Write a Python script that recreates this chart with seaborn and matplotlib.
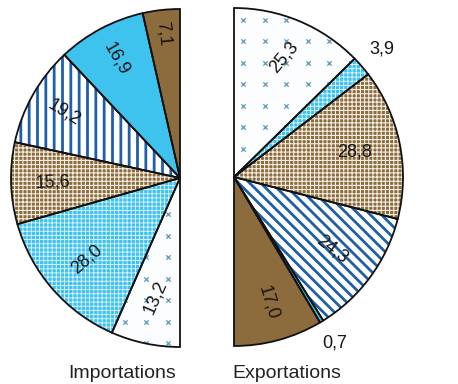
import numpy as np
import matplotlib
matplotlib.use("Agg")
import matplotlib.pyplot as plt
import seaborn as sns

# Importations, counter-clockwise from the top (half circle = 100 %)
imp_labels = ["7,1", "16,9", "19,2", "15,6", "28,0", "13,2"]
imp_values = [7.1, 16.9, 19.2, 15.6, 28.0, 13.2]
imp_kinds = ["brown", "cyan", "stripes", "brown_grid", "cyan_grid", "cross"]

# Exportations, clockwise from the top
exp_labels = ["25,3", "3,9", "28,8", "24,3", "0,7", "17,0"]
exp_values = [25.3, 3.9, 28.8, 24.3, 0.7, 17.0]
exp_kinds = ["cross", "cyan_grid", "brown_grid", "stripes", "cyan", "brown"]

titles = ["Importations", "Exportations"]

BROWN = "#8c6b3d"
CYAN = "#3ec3ee"
BLUE = "#1f5ea8"
CROSS = "#5a9ab8"
R = 169

sns.set_theme(style="white")
plt.rcParams['font.family'] = ['Liberation Sans', 'DejaVu Sans']

fig = plt.figure(figsize=(4.58, 3.84), dpi=100)
ax = fig.add_axes([0, 0, 1, 1])


def style_for(kind, stripe_hatch):
    if kind == "brown":
        return BROWN, None, BROWN, 1.0
    if kind == "cyan":
        return CYAN, None, CYAN, 1.0
    if kind == "stripes":
        return "white", stripe_hatch, BLUE, 2.0
    if kind == "brown_grid":
        return BROWN, "++++", "#f4eee4", 0.8
    if kind == "cyan_grid":
        return CYAN, "++++", "#e8f8fd", 0.6
    return "#fcfdff", None, CROSS, 1.0


def draw_half(values, labels, kinds, center, counterclock, stripe_hatch, dists, rots):
    vals = np.array(values) / 200.0
    wedges, _ = ax.pie(vals, normalize=False, startangle=90, counterclock=counterclock,
                       center=center, radius=R, wedgeprops=dict(linewidth=0))
    for w, k in zip(wedges, kinds):
        face, hatch, hc, hlw = style_for(k, stripe_hatch)
        w.set_facecolor(face)
        w.set_edgecolor(hc)
        w.set_linewidth(0)
        if hatch:
            w.set_hatch(hatch)
            if hasattr(w, "set_hatch_linewidth"):
                w.set_hatch_linewidth(hlw)
        if k == "cross":
            gx, gy = np.meshgrid(np.arange(center[0] - R + 6, center[0] + R, 21.5),
                                 np.arange(center[1] - R + 4, center[1] + R, 21.5))
            sc = ax.scatter(gx.ravel(), gy.ravel(), marker="x", s=10, c=CROSS, linewidths=0.9, zorder=3)
            sc.set_clip_path(w)
    # outlines
    outl, _ = ax.pie(vals, normalize=False, startangle=90, counterclock=counterclock,
                     center=center, radius=R,
                     wedgeprops=dict(fill=False, edgecolor="#111111", linewidth=1.3))
    for o in outl:
        o.set_zorder(4)
    for w, lab, d, rot in zip(wedges, labels, dists, rots):
        mid = np.deg2rad((w.theta1 + w.theta2) / 2)
        x = center[0] + d * R * np.cos(mid)
        y = center[1] + d * R * np.sin(mid)
        ax.text(x, y, lab, ha="center", va="center", rotation=rot,
                rotation_mode="anchor", fontsize=13, color="#161616", zorder=5)


draw_half(imp_values, imp_labels, imp_kinds, (180, 206), True, "||",
          [0.86, 0.80, 0.79, 0.75, 0.73, 0.72], [-84, -60, -32, 2, 41, 66])
draw_half(exp_values, exp_labels, exp_kinds, (234, 207), False, "\\\\\\",
          [0.77, 1.16, 0.73, 0.72, 1.15, 0.77], [50, 0, 0, -38, 0, -73])

ax.text(122, 11, titles[0], ha="center", va="center", fontsize=14, color="#222222")
ax.text(287, 10, titles[1], ha="center", va="center", fontsize=14, color="#222222")

ax.set_xlim(0, 458)
ax.set_ylim(0, 384)
ax.set_aspect("auto")
ax.axis("off")
fig.savefig("out.png", dpi=100, facecolor="white")
